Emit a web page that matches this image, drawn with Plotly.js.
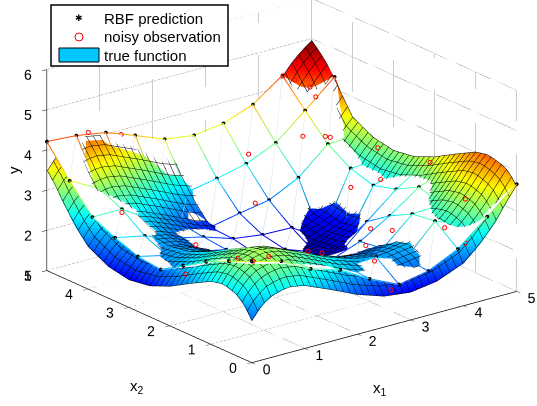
<!DOCTYPE html>
<html>
<head>
<meta charset="utf-8">
<script src="https://cdn.plot.ly/plotly-3.0.1.min.js"></script>
<style>html,body{margin:0;padding:0;background:#fff}#plot{width:537px;height:406px}</style>
</head>
<body>
<div id="plot"></div>
<script>
// Coarse sampling nodes of the true function
var trueNodes = [0,0.2,0.4,0.7,1,1.5,2,2.5,3,3.5,4,4.3,4.6,4.8,5];
var trueZ = [
[2.03,2.35,2.53,2.63,2.56,2.28,1.98,1.76,1.68,1.78,2.05,2.40,2.85,3.25,3.62],
[2.35,2.67,2.85,2.95,2.88,2.60,2.30,2.08,2.00,2.10,2.37,2.72,3.17,3.55,3.90],
[2.53,2.85,3.03,3.13,3.06,2.78,2.48,2.26,2.18,2.28,2.55,2.90,3.35,3.70,4.00],
[2.63,2.95,3.13,3.23,3.16,2.88,2.58,2.36,2.28,2.38,2.65,3.00,3.45,3.80,4.08],
[2.56,2.88,3.06,3.16,3.09,2.81,2.51,2.29,2.21,2.31,2.58,2.93,3.38,3.73,4.01],
[2.28,2.60,2.78,2.88,2.81,2.53,2.23,2.01,1.93,2.03,2.30,2.65,3.10,3.45,3.73],
[1.98,2.30,2.48,2.58,2.51,2.23,1.93,1.71,1.63,1.73,2.00,2.35,2.80,3.15,3.43],
[1.76,2.08,2.26,2.36,2.29,2.01,1.71,1.49,1.41,1.51,1.78,2.13,2.58,2.93,3.21],
[1.68,2.00,2.18,2.28,2.21,1.93,1.63,1.41,1.33,1.43,1.70,2.05,2.50,2.85,3.13],
[1.78,2.10,2.28,2.38,2.31,2.03,1.73,1.51,1.43,1.53,1.80,2.15,2.60,2.95,3.23],
[2.05,2.37,2.55,2.65,2.58,2.30,2.00,1.78,1.70,1.80,2.07,2.42,2.87,3.22,3.50],
[2.40,2.72,2.90,3.00,2.93,2.65,2.35,2.13,2.05,2.15,2.42,2.95,3.50,3.65,4.00],
[2.85,3.17,3.35,3.45,3.38,3.10,2.80,2.58,2.50,2.60,2.87,3.50,3.90,4.20,4.50],
[3.20,3.52,3.70,3.80,3.73,3.45,3.15,2.93,2.85,2.95,3.22,3.65,4.20,4.55,4.75],
[3.48,3.80,3.98,4.08,4.01,3.73,3.43,3.21,3.13,3.23,3.50,4.00,4.50,4.75,4.95]
];
// RBF prediction on a 10x10 grid
var rbfNodes = [0,0.556,1.111,1.667,2.222,2.778,3.333,3.889,4.444,5];
var rbfZ = [
[3.52,3.33,2.94,2.72,2.30,1.96,2.10,2.45,3.06,3.67],
[3.27,3.00,2.95,2.65,2.35,2.39,2.15,2.89,2.60,3.60],
[3.00,2.95,2.70,2.45,2.20,2.00,2.15,2.81,2.85,3.40],
[2.65,2.45,2.30,2.05,1.85,1.80,2.07,2.51,3.03,3.30],
[2.30,2.20,2.10,1.95,1.75,1.65,1.45,2.11,2.72,3.20],
[2.37,2.20,2.10,1.95,1.65,1.56,1.30,1.30,2.56,2.85],
[2.58,2.43,2.18,2.01,1.77,1.67,1.65,1.20,2.73,2.75],
[2.84,2.84,2.38,2.08,1.80,1.95,2.08,2.44,3.08,3.10],
[3.49,3.10,2.95,2.65,2.42,2.56,2.73,3.05,3.66,4.30],
[4.21,4.16,4.04,3.77,3.48,3.38,3.48,3.75,4.28,4.55]
];
// Noisy observations
var obsX1 = [0.78,1.4,3,4.3,4.6,4.4,4.3,4.4,3.7,3.9,3.9,4.6,4,4.6,3.6,4.4,0.3,2.5,1,0.1,0.1,0.02,0.35,1.3,1.5,3.2,3.4,2.8,2.6,2.65,4.1,3.7];
var obsX2 = [5,5,3.96,4.8,4.08,4.13,4.51,4.27,3.54,3.25,3.13,2.875,2.03,1.6,2.24,0.48,3.56,3.15,2.66,1.74,0.47,0,0.04,0.31,0.23,1.24,0.97,0.84,0.37,0.03,0.09,0.08];
var obsY  = [4.16,3.89,3.31,4.41,4.73,4.16,4.44,4.34,3.70,3.76,3.79,3.40,3.21,3.62,3.06,3.29,3.0,2.64,2.36,2.37,3.35,3.52,3.5,3.17,3.09,2.63,2.64,2.54,2.44,1.86,2.48,3.01];

var tickX = [0,1,2,3,4,5];
var tickZ = [1,2,3,4,5,6];
var zLow = 1.3, zHigh = 4.95;
var meshStep = 0.125;
var jet = [[0,'rgb(0,0,143)'],[0.11,'rgb(0,0,255)'],[0.36,'rgb(0,255,255)'],[0.61,'rgb(255,255,0)'],[0.86,'rgb(255,0,0)'],[1,'rgb(128,0,0)']];
var paleJet = [[0,'rgb(200,200,235)'],[0.11,'rgb(200,205,250)'],[0.36,'rgb(195,240,240)'],[0.61,'rgb(240,240,190)'],[0.86,'rgb(245,200,190)'],[1,'rgb(220,190,190)']];
var flat = {ambient:1,diffuse:0,specular:0,roughness:1,fresnel:0};

var traces = [];
var gridStyle = {color:'#333',width:1,dash:'dot'};
function gridLine(xs,ys,zs){traces.push({type:'scatter3d',mode:'lines',x:xs,y:ys,z:zs,line:gridStyle,hoverinfo:'skip',showlegend:false});}
tickX.forEach(function(t){
  gridLine([t,t],[0,5],[1,1]); gridLine([0,5],[t,t],[1,1]);
  gridLine([t,t],[5,5],[1,6]); gridLine([5,5],[t,t],[1,6]);
});
tickZ.forEach(function(t){
  gridLine([0,5],[5,5],[t,t]); gridLine([5,5],[0,5],[t,t]);
});
traces.push({type:'surface',name:'true function',x:trueNodes,y:trueNodes,z:trueZ,cmin:zLow,cmax:zHigh,colorscale:jet,showscale:false,lighting:flat,hoverinfo:'skip',
  contours:{x:{highlight:false},y:{highlight:false},z:{highlight:false}}});
// black facet lines of the true surface, sampled from its table, nudged toward the viewer
function sampleTrue(a,b){
  function seg(v){var k=0;while(k<trueNodes.length-2&&trueNodes[k+1]<v)k++;return [k,(v-trueNodes[k])/(trueNodes[k+1]-trueNodes[k])];}
  var A=seg(a),B=seg(b),i=A[0],s=A[1],j=B[0],t=B[1];
  return (1-t)*((1-s)*trueZ[j][i]+s*trueZ[j][i+1])+t*((1-s)*trueZ[j+1][i]+s*trueZ[j+1][i+1]);
}
var lx=[],ly=[],lz=[],nudge=0.012,n=Math.round(5/meshStep);
function pushMesh(a,b){
  lx.push(Math.max(0,a-nudge));ly.push(Math.max(0,b-1.288*nudge));lz.push(sampleTrue(a,b)+0.947*nudge);
}
for(var p=0;p<=n;p++){
  var q;
  for(q=0;q<=n;q++){pushMesh(p*meshStep,q*meshStep);}
  lx.push(null);ly.push(null);lz.push(null);
  for(q=0;q<=n;q++){pushMesh(q*meshStep,p*meshStep);}
  lx.push(null);ly.push(null);lz.push(null);
}
traces.push({type:'scatter3d',mode:'lines',x:lx,y:ly,z:lz,line:{color:'#000',width:1},hoverinfo:'skip',showlegend:false});
traces.push({type:'surface',x:rbfNodes,y:rbfNodes,z:rbfZ.map(function(r){return r.map(function(v){return v-0.02;});}),showscale:false,colorscale:[[0,'#fff'],[1,'#fff']],lighting:flat,hoverinfo:'skip',
  contours:{x:{highlight:false},y:{highlight:false},z:{highlight:false}}});
function meshLine(xs,ys,zs,w,scale){traces.push({type:'scatter3d',mode:'lines',x:xs,y:ys,z:zs,line:{color:zs,cmin:zLow,cmax:zHigh,colorscale:scale,width:w},hoverinfo:'skip',showlegend:false});}
rbfNodes.forEach(function(v,j){
  meshLine(rbfNodes,rbfNodes.map(function(){return v;}),rbfZ[j],2,jet);
  meshLine(rbfNodes.map(function(){return v;}),rbfNodes,rbfZ.map(function(r){return r[j];}),2,jet);
});
for(var i=0;i<rbfNodes.length-1;i++){for(var j=0;j<rbfNodes.length-1;j++){
  meshLine([rbfNodes[i+1],rbfNodes[i]],[rbfNodes[j+1],rbfNodes[j]],[rbfZ[j+1][i+1],rbfZ[j][i]],1,paleJet);
}}
var dx=[],dy=[],dz=[];
rbfNodes.forEach(function(b,j){rbfNodes.forEach(function(a,i){dx.push(a);dy.push(b);dz.push(rbfZ[j][i]);});});
traces.push({type:'scatter3d',mode:'markers',name:'RBF prediction',x:dx,y:dy,z:dz,marker:{color:'#000',size:2.2},hoverinfo:'skip',showlegend:false});
traces.push({type:'scatter3d',mode:'markers',name:'noisy observation',x:obsX1,y:obsX2,z:obsY,marker:{symbol:'circle-open',color:'#f00',size:2.6,line:{color:'#f00',width:1}},hoverinfo:'skip',showlegend:false});

var fontName = '"Liberation Sans", Arial, sans-serif';
function axis(range,tickDir){return {range:range,autorange:false,dtick:1,tick0:0,tickmode:'linear',showgrid:false,zeroline:false,showbackground:false,showspikes:false,
  showline:true,linecolor:'#000',linewidth:1.5,ticks:tickDir,ticklen:6,tickcolor:'#000',tickangle:0,tickfont:{family:fontName,size:13,color:'#000'},
  title:{text:''}};}
var R=2.2, S=1.65;
var look={x:-0.0753,y:0.0095,z:-0.104};
function ann(x,y,t,extra){var o={xref:'paper',yref:'paper',x:x/537,y:1-y/406,yanchor:'middle',xanchor:'center',text:t,showarrow:false,font:{family:fontName,size:15,color:'#000'}};for(var k in (extra||{}))o[k]=extra[k];return o;}
var layout = {
  width:537,height:406,margin:{l:0,r:0,t:0,b:0},paper_bgcolor:'#fff',showlegend:false,
  scene:{domain:{x:[0,1],y:[0,1]},
    aspectmode:'manual',aspectratio:{x:S,y:S,z:0.64*S},
    camera:{projection:{type:'orthographic'},eye:{x:look.x-0.574*R,y:look.y-0.742*R,z:look.z+0.348*R},center:look,up:{x:0,y:0,z:1}},
    xaxis:axis([0,5],'inside'),yaxis:axis([0,5],'inside'),zaxis:axis([1,6],'outside')},
  shapes:[
    {type:'rect',xref:'paper',yref:'paper',x0:51/537,x1:228/537,y0:1-66/406,y1:1-5/406,fillcolor:'#fff',line:{color:'#000',width:1.5}},
    {type:'rect',xref:'paper',yref:'paper',x0:59/537,x1:99/537,y0:1-62/406,y1:1-48/406,fillcolor:'rgb(0,200,255)',line:{color:'#000',width:1}},
    {type:'circle',xref:'paper',yref:'paper',x0:75/537,x1:83/537,y0:1-41/406,y1:1-33/406,fillcolor:'rgba(0,0,0,0)',line:{color:'#f00',width:1}}
  ],
  annotations:[
    ann(79,18,'✱',{font:{family:'DejaVu Sans',size:9,color:'#000'}}),
    ann(102,18,'RBF prediction',{xanchor:'left'}),
    ann(102,37,'noisy observation',{xanchor:'left'}),
    ann(102,55,'true function',{xanchor:'left'}),
    ann(380,388,'x<sub>1</sub>'),
    ann(137,386,'x<sub>2</sub>'),
    ann(13,170,'y',{textangle:-90})
  ]
};
Plotly.newPlot('plot',traces,layout,{displayModeBar:false});
</script>
</body>
</html>
